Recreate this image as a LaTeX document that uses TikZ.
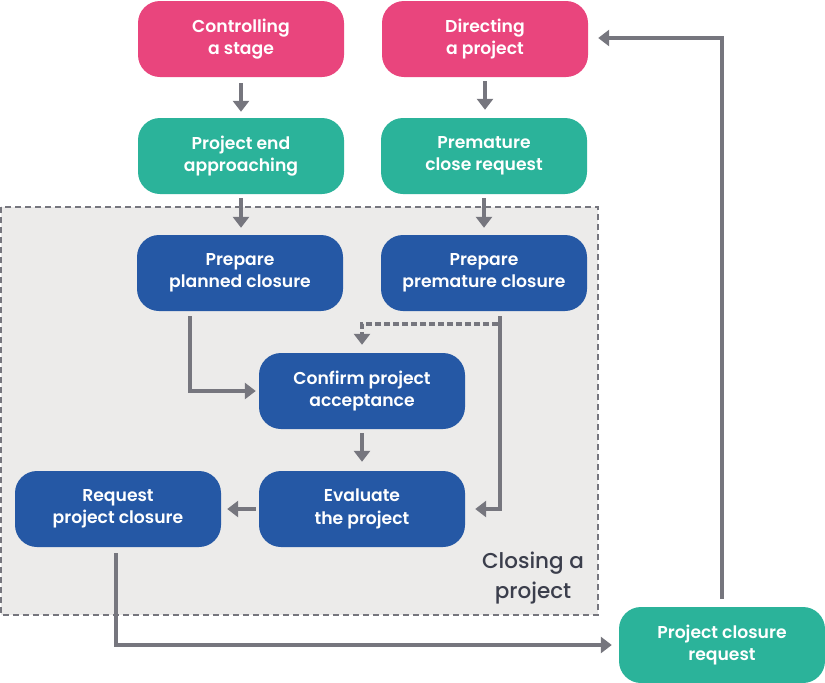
\documentclass[tikz,border=0pt]{standalone}
\usepackage{fontspec}
\setmainfont{Poppins}
\newfontfamily\semifont{Poppins SemiBold}
\newfontfamily\medfont{Poppins Medium}
\usetikzlibrary{arrows.meta,calc}
\definecolor{cpink}{HTML}{E9457D}
\definecolor{cteal}{HTML}{2BB39A}
\definecolor{cblue}{HTML}{2558A5}
\definecolor{carrow}{HTML}{76767E}
\definecolor{cbg}{HTML}{ECEBEA}
\definecolor{ctext}{HTML}{3B3E4C}
\tikzset{
  box/.style={rounded corners=22pt, minimum width=206pt, minimum height=76pt,
    text=white, align=center, font=\fontsize{17.2}{22.5}\selectfont\semifont, inner sep=0pt},
  pinkbox/.style={box, fill=cpink},
  tealbox/.style={box, fill=cteal},
  bluebox/.style={box, fill=cblue},
  flow/.style={draw=carrow, line width=3.6pt, -{Triangle[length=11pt,width=16pt]}},
  dflow/.style={flow, dash pattern=on 6pt off 3pt},
}
\begin{document}
\begin{tikzpicture}[x=1pt,y=-1pt]
\useasboundingbox (0,0) rectangle (825,683);
% group area
\draw[fill=cbg, draw=carrow, line width=1.6pt, dash pattern=on 6pt off 4pt] (1,207) rectangle (598,615);
\node[text=ctext, align=center, font=\fontsize{21.5}{30}\selectfont\medfont] (lbl) at (533,578) {Closing a\\project};
% nodes
\node[pinkbox] (ctrl) at (241,39) {Controlling\\a stage};
\node[pinkbox] (dir) at (485,39) {Directing\\a project};
\node[tealbox] (pend) at (241,156) {Project end\\approaching};
\node[tealbox] (pcr) at (484,156) {Premature\\close request};
\node[bluebox] (ppl) at (240,273) {Prepare\\planned closure};
\node[bluebox] (ppm) at (484,273) {Prepare\\premature closure};
\node[bluebox] (conf) at (362,391) {Confirm project\\acceptance};
\node[bluebox] (eval) at (362,509) {Evaluate\\the project};
\node[bluebox] (req) at (118,509) {Request\\project closure};
\node[tealbox] (clos) at (722,645) {Project closure\\request};
% connectors
\draw[flow, shorten <=6pt, shorten >=6pt] (ctrl.south) -- (pend.north);
\draw[flow, shorten <=4pt, shorten >=8pt] (dir.south) -- (dir.south |- pcr.north);
\draw[flow, shorten <=4pt, shorten >=7pt] (pend.south) -- (pend.south |- ppl.north);
\draw[flow, shorten <=4pt, shorten >=7pt] (pcr.south) -- (ppm.north);
\draw[flow, shorten <=5pt, shorten >=3pt] ([xshift=-50pt]ppl.south) |- (conf.west);
\draw[flow, shorten <=5pt, shorten >=10pt] ([xshift=16pt]ppm.south) |- (eval.east);
\coordinate (dj) at ([xshift=14pt,yshift=-13pt]ppm.south);
\draw[dflow, shorten >=8pt] (dj) -| (conf.north);
\draw[flow, shorten <=4pt, shorten >=9pt] (conf.south) -- (eval.north);
\draw[flow, shorten <=3pt, shorten >=6pt] (eval.west) -- (req.east);
\draw[flow, shorten <=6pt, shorten >=7pt] ([xshift=-2pt]req.south) |- (clos.west);
\draw[flow, shorten <=8pt, shorten >=10pt] (clos.north) |- ([yshift=1pt]dir.east);
\end{tikzpicture}
\end{document}
